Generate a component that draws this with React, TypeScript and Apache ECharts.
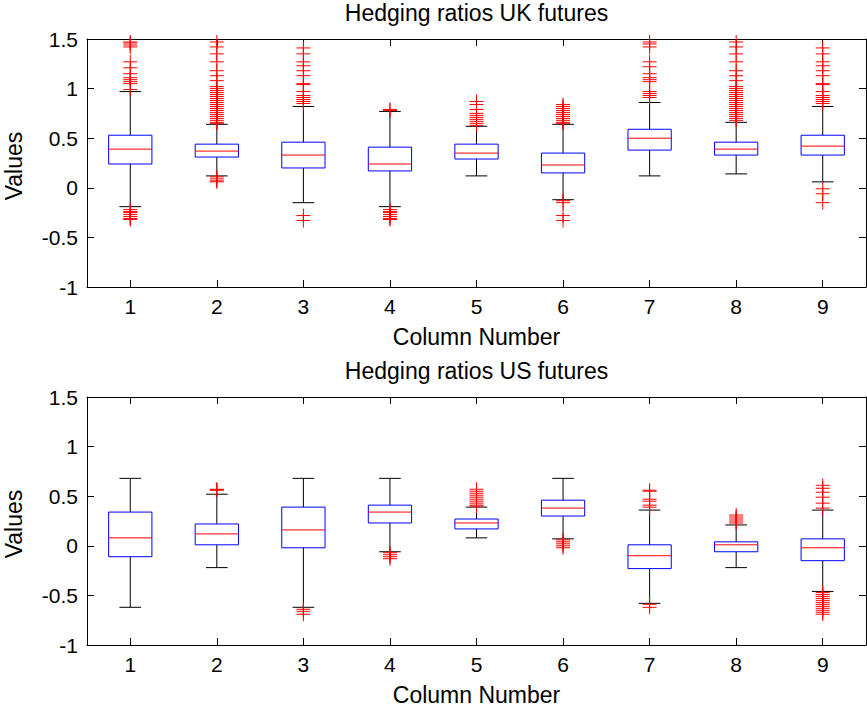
import React, { useEffect, useRef } from "react";
import * as echarts from "echarts";

// Column labels shared by both panels
const columns = ["1", "2", "3", "4", "5", "6", "7", "8", "9"];
// Value-axis ticks
const yTicks = [-1, -0.5, 0, 0.5, 1, 1.5];

// UK futures hedging ratios: box statistics per column
const ukWhiskerLow = [-0.19, 0.12, -0.15, -0.19, 0.12, -0.12, 0.12, 0.14, 0.06];
const ukQ1 = [0.24, 0.31, 0.2, 0.17, 0.29, 0.15, 0.38, 0.33, 0.33];
const ukMedian = [0.39, 0.37, 0.33, 0.24, 0.35, 0.23, 0.5, 0.39, 0.42];
const ukQ3 = [0.53, 0.44, 0.46, 0.41, 0.44, 0.35, 0.59, 0.46, 0.53];
const ukWhiskerHigh = [0.97, 0.64, 0.82, 0.77, 0.62, 0.64, 0.86, 0.66, 0.82];
const ukOutliers = [
  [1.47, 1.46, 1.44, 1.42, 1.27, 1.21, 1.15, 1.11, 1.09, 1.07, 1.05, 0.99,
    -0.22, -0.24, -0.25, -0.27, -0.29, -0.31, -0.32],
  [1.47, 1.42, 1.35, 1.27, 1.18, 1.13, 1.08, 1.02, 1.0, 0.98, 0.96, 0.94, 0.92, 0.9,
    0.88, 0.86, 0.84, 0.82, 0.8, 0.78, 0.76, 0.74, 0.72, 0.7, 0.68, 0.66, 0.65,
    0.11, 0.09, 0.07, 0.06],
  [1.41, 1.35, 1.27, 1.23, 1.18, 1.13, 1.05, 1.04, 0.97, 0.93, 0.91, 0.89, 0.87, 0.85,
    -0.28, -0.33],
  [0.79, 0.78, -0.22, -0.24, -0.25, -0.27, -0.29, -0.31, -0.32],
  [0.87, 0.84, 0.79, 0.75, 0.73, 0.71, 0.69, 0.67, 0.65, 0.63],
  [0.84, 0.82, 0.8, 0.78, 0.76, 0.74, 0.72, 0.7, 0.68, 0.66, 0.65,
    -0.13, -0.15, -0.28, -0.33],
  [1.47, 1.45, 1.42, 1.27, 1.22, 1.15, 1.11, 1.09, 1.07, 0.97, 0.95, 0.93, 0.91],
  [1.47, 1.42, 1.35, 1.27, 1.18, 1.13, 1.08, 1.02, 1.0, 0.98, 0.96, 0.94, 0.92, 0.9,
    0.88, 0.86, 0.84, 0.82, 0.8, 0.78, 0.76, 0.74, 0.72, 0.7, 0.68],
  [1.41, 1.35, 1.27, 1.23, 1.18, 1.13, 1.05, 1.04, 0.97, 0.93, 0.91, 0.89, 0.87, 0.85,
    -0.01, -0.06, -0.15],
];

// US futures hedging ratios: box statistics per column
const usWhiskerLow = [-0.62, -0.22, -0.62, -0.06, 0.08, 0.07, -0.58, -0.22, -0.46];
const usQ1 = [-0.11, 0.01, -0.02, 0.23, 0.17, 0.3, -0.23, -0.06, -0.15];
const usMedian = [0.08, 0.12, 0.16, 0.34, 0.23, 0.38, -0.1, 0.01, -0.02];
const usQ3 = [0.34, 0.22, 0.39, 0.41, 0.27, 0.46, 0.01, 0.04, 0.07];
const usWhiskerHigh = [0.68, 0.52, 0.68, 0.68, 0.39, 0.68, 0.36, 0.21, 0.36];
const usOutliers = [
  [],
  [0.57, 0.565, 0.56],
  [-0.64, -0.66, -0.69],
  [-0.07, -0.09, -0.11, -0.13],
  [0.57, 0.55, 0.53, 0.51, 0.49, 0.47, 0.45, 0.43, 0.41, 0.4],
  [0.06, 0.04, 0.02, 0.0, -0.02],
  [0.56, 0.55, 0.47, 0.45, 0.41, 0.39, -0.59, -0.62],
  [0.31, 0.29, 0.27, 0.25, 0.23],
  [0.61, 0.58, 0.54, 0.49, 0.43, 0.38, -0.47, -0.49, -0.51, -0.53, -0.55, -0.57, -0.59,
    -0.61, -0.63, -0.65, -0.67, -0.69],
];

const FONT = "'Liberation Sans', Arial, Helvetica, sans-serif";
const BLUE = "#0000ff";
const RED = "#ff0000";
const BLACK = "#000000";

const PLOT_LEFT = 87;
const PLOT_WIDTH = 779;
const PLOT_HEIGHT = 248;

type Panel = {
  title: string;
  top: number;
  low: number[];
  q1: number[];
  median: number[];
  q3: number[];
  high: number[];
  outliers: number[][];
};

const panels: Panel[] = [
  {
    title: "Hedging ratios UK futures",
    top: 39,
    low: ukWhiskerLow,
    q1: ukQ1,
    median: ukMedian,
    q3: ukQ3,
    high: ukWhiskerHigh,
    outliers: ukOutliers,
  },
  {
    title: "Hedging ratios US futures",
    top: 397,
    low: usWhiskerLow,
    q1: usQ1,
    median: usMedian,
    q3: usQ3,
    high: usWhiskerHigh,
    outliers: usOutliers,
  },
];

function renderBox(_params: any, api: any) {
  const idx = api.value(0);
  const band = api.size([1, 0])[0];
  const halfBox = band * 0.25;
  const halfCap = band * 0.125;
  const pLow = api.coord([idx, api.value(1)]);
  const pQ1 = api.coord([idx, api.value(2)]);
  const pMed = api.coord([idx, api.value(3)]);
  const pQ3 = api.coord([idx, api.value(4)]);
  const pHigh = api.coord([idx, api.value(5)]);
  const cx = pMed[0];
  const black = { stroke: BLACK, lineWidth: 1 };
  return {
    type: "group",
    children: [
      { type: "line", shape: { x1: cx, y1: pQ3[1], x2: cx, y2: pHigh[1] }, style: black },
      { type: "line", shape: { x1: cx, y1: pQ1[1], x2: cx, y2: pLow[1] }, style: black },
      { type: "line", shape: { x1: cx - halfCap, y1: pHigh[1], x2: cx + halfCap, y2: pHigh[1] }, style: black },
      { type: "line", shape: { x1: cx - halfCap, y1: pLow[1], x2: cx + halfCap, y2: pLow[1] }, style: black },
      {
        type: "rect",
        shape: { x: cx - halfBox, y: pQ3[1], width: halfBox * 2, height: pQ1[1] - pQ3[1] },
        style: { fill: "none", stroke: BLUE, lineWidth: 1 },
      },
      {
        type: "line",
        shape: { x1: cx - halfBox, y1: pMed[1], x2: cx + halfBox, y2: pMed[1] },
        style: { stroke: RED, lineWidth: 1 },
      },
    ],
  };
}

function renderPlus(_params: any, api: any) {
  const p = api.coord([api.value(0), api.value(1)]);
  const h = 7;
  const st = { stroke: RED, lineWidth: 1 };
  return {
    type: "group",
    children: [
      { type: "line", shape: { x1: p[0] - h, y1: p[1], x2: p[0] + h, y2: p[1] }, style: st },
      { type: "line", shape: { x1: p[0], y1: p[1] - h, x2: p[0], y2: p[1] + h }, style: st },
    ],
  };
}

function buildOption() {
  const grid: any[] = [];
  const xAxis: any[] = [];
  const yAxis: any[] = [];
  const series: any[] = [];
  const graphic: any[] = [];
  const axisLine = { show: true, onZero: false, lineStyle: { color: BLACK, width: 1 } };
  const tick = { show: true, inside: true, length: 7, lineStyle: { color: BLACK, width: 1 } };
  const label = { color: BLACK, fontSize: 21, fontFamily: FONT };
  const nameFont = `23px ${FONT}`;

  panels.forEach((panel, g) => {
    grid.push({ left: PLOT_LEFT, top: panel.top, width: PLOT_WIDTH, height: PLOT_HEIGHT });
    xAxis.push({
      type: "category",
      data: columns,
      gridIndex: g,
      position: "bottom",
      boundaryGap: true,
      axisLine,
      axisTick: { ...tick, alignWithLabel: true },
      axisLabel: { ...label, margin: 9 },
      splitLine: { show: false },
    });
    xAxis.push({
      type: "category",
      data: columns,
      gridIndex: g,
      position: "top",
      boundaryGap: true,
      axisLine,
      axisTick: { ...tick, alignWithLabel: true },
      axisLabel: { show: false },
      splitLine: { show: false },
    });
    const yBase = {
      type: "value",
      gridIndex: g,
      min: yTicks[0],
      max: yTicks[yTicks.length - 1],
      interval: yTicks[1] - yTicks[0],
      axisLine,
      axisTick: tick,
      splitLine: { show: false },
    };
    yAxis.push({ ...yBase, position: "left", axisLabel: { ...label, margin: 9 } });
    yAxis.push({ ...yBase, position: "right", axisLabel: { show: false } });

    series.push({
      type: "custom",
      xAxisIndex: g * 2,
      yAxisIndex: g * 2,
      renderItem: renderBox,
      encode: { x: 0, y: [1, 2, 3, 4, 5] },
      data: columns.map((_c, i) => [
        i,
        panel.low[i],
        panel.q1[i],
        panel.median[i],
        panel.q3[i],
        panel.high[i],
      ]),
      silent: true,
    });
    series.push({
      type: "custom",
      xAxisIndex: g * 2,
      yAxisIndex: g * 2,
      renderItem: renderPlus,
      clip: false,
      encode: { x: 0, y: 1 },
      data: panel.outliers.flatMap((list, i) => list.map((v) => [i, v])),
      silent: true,
    });

    const centerX = PLOT_LEFT + PLOT_WIDTH / 2;
    const bottom = panel.top + PLOT_HEIGHT;
    graphic.push({
      type: "text",
      x: centerX,
      y: panel.top - 26,
      style: { text: panel.title, fill: BLACK, font: nameFont, align: "center", verticalAlign: "middle" },
    });
    graphic.push({
      type: "text",
      x: centerX,
      y: bottom + 50,
      style: { text: "Column Number", fill: BLACK, font: nameFont, align: "center", verticalAlign: "middle" },
    });
    graphic.push({
      type: "text",
      x: 14,
      y: panel.top + PLOT_HEIGHT / 2 + 3,
      rotation: Math.PI / 2,
      style: { text: "Values", fill: BLACK, font: nameFont, align: "center", verticalAlign: "middle" },
    });
  });

  return {
    animation: false,
    backgroundColor: "#ffffff",
    grid,
    xAxis,
    yAxis,
    series,
    graphic,
  };
}

export default function App() {
  const ref = useRef<HTMLDivElement>(null);
  useEffect(() => {
    if (!ref.current) return;
    const chart = echarts.init(ref.current, undefined, { renderer: "svg" });
    chart.setOption(buildOption() as any);
    return () => chart.dispose();
  }, []);
  return (
    <div
      ref={ref}
      style={{ position: "fixed", left: 0, top: 0, width: 867, height: 709, background: "#fff" }}
    />
  );
}
